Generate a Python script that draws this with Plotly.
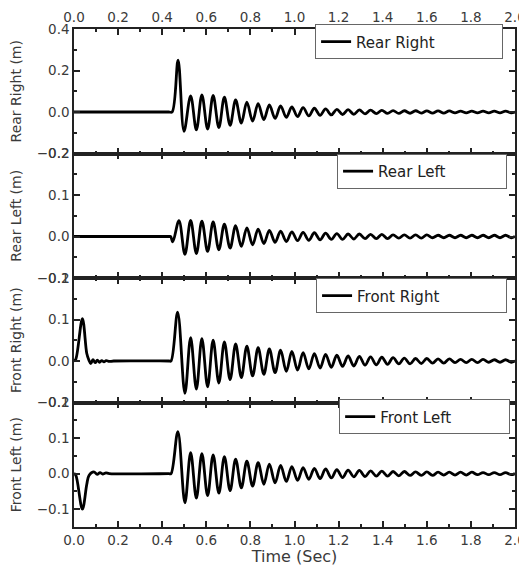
import plotly.graph_objects as go

# ---------------- data ----------------
# times of the successive extrema of the main oscillation (s)
t_osc = [0.529, 0.555, 0.580, 0.606, 0.631, 0.657, 0.682, 0.708, 0.733, 0.759,
         0.784, 0.810, 0.835, 0.861, 0.886, 0.912, 0.937, 0.963, 0.988, 1.014,
         1.039, 1.065, 1.090, 1.116, 1.141, 1.167, 1.192, 1.218, 1.243, 1.269,
         1.294, 1.320, 1.345, 1.371, 1.396, 1.422, 1.447, 1.473, 1.498, 1.524,
         1.549, 1.575, 1.600, 1.626, 1.651, 1.677, 1.702, 1.728, 1.753, 1.779,
         1.804, 1.830, 1.855, 1.881, 1.906, 1.932, 1.957, 1.983]
t_end = [2.0]
y_end = [0.0]

# Rear Right
t_rr_lead = [0.0, 0.43, 0.445, 0.472, 0.499]
y_rr_lead = [0.0, 0.0, 0.0, 0.250, -0.093]
y_rr_osc = [0.078, -0.086, 0.083, -0.082, 0.080, -0.075, 0.071, -0.064, 0.058, -0.053,
            0.048, -0.044, 0.040, -0.037, 0.034, -0.031, 0.029, -0.026, 0.024, -0.022,
            0.021, -0.019, 0.018, -0.016, 0.015, -0.014, 0.013, -0.012, 0.011, -0.011,
            0.010, -0.009, 0.009, -0.008, 0.008, -0.007, 0.007, -0.007, 0.006, -0.006,
            0.006, -0.005, 0.005, -0.005, 0.005, -0.005, 0.005, -0.004, 0.004, -0.004,
            0.004, -0.004, 0.004, -0.004, 0.004, -0.004, 0.004, -0.004]

# Rear Left
t_rl_lead = [0.0, 0.43, 0.438, 0.448, 0.476, 0.503]
y_rl_lead = [0.0, 0.0, 0.0, -0.013, 0.038, -0.043]
y_rl_osc = [0.039, -0.041, 0.037, -0.036, 0.035, -0.032, 0.030, -0.028, 0.026, -0.024,
            0.021, -0.020, 0.018, -0.017, 0.015, -0.014, 0.013, -0.012, 0.011, -0.010,
            0.010, -0.009, 0.009, -0.008, 0.008, -0.007, 0.007, -0.007, 0.006, -0.006,
            0.006, -0.005, 0.005, -0.005, 0.005, -0.005, 0.004, -0.004, 0.004, -0.004,
            0.004, -0.004, 0.004, -0.003, 0.003, -0.003, 0.003, -0.003, 0.003, -0.003,
            0.003, -0.003, 0.003, -0.003, 0.003, -0.003, 0.003, -0.003]

# Front Right
t_fr_lead = [0.0, 0.008, 0.038, 0.058, 0.067, 0.076, 0.086, 0.096, 0.106, 0.116,
             0.126, 0.136, 0.146, 0.16, 0.18, 0.43, 0.44, 0.470, 0.503]
y_fr_lead = [0.0, 0.004, 0.102, 0.018, 0.003, -0.006, 0.003, -0.004, 0.002, -0.003,
             0.001, -0.002, 0.001, -0.001, 0.0, 0.0, 0.0, 0.118, -0.078]
y_fr_osc = [0.056, -0.068, 0.054, -0.062, 0.050, -0.053, 0.046, -0.045, 0.041, -0.040,
            0.036, -0.036, 0.032, -0.032, 0.029, -0.028, 0.026, -0.025, 0.023, -0.022,
            0.020, -0.019, 0.018, -0.017, 0.016, -0.015, 0.014, -0.013, 0.012, -0.012,
            0.011, -0.010, 0.010, -0.009, 0.009, -0.008, 0.008, -0.007, 0.007, -0.007,
            0.006, -0.006, 0.006, -0.005, 0.005, -0.005, 0.005, -0.004, 0.004, -0.004,
            0.004, -0.004, 0.004, -0.003, 0.003, -0.003, 0.003, -0.003]

# Front Left
t_fl_lead = [0.0, 0.008, 0.038, 0.058, 0.068, 0.090, 0.105, 0.118, 0.130, 0.145,
             0.16, 0.43, 0.44, 0.471, 0.503]
y_fl_lead = [0.0, -0.004, -0.100, -0.030, -0.005, 0.005, -0.002, 0.003, -0.001, 0.002,
             0.0, 0.0, 0.0, 0.118, -0.082]
y_fl_osc = [0.059, -0.069, 0.056, -0.062, 0.053, -0.055, 0.048, -0.048, 0.041, -0.040,
            0.035, -0.035, 0.031, -0.030, 0.027, -0.026, 0.023, -0.022, 0.020, -0.019,
            0.017, -0.016, 0.015, -0.014, 0.013, -0.012, 0.011, -0.011, 0.010, -0.009,
            0.009, -0.008, 0.008, -0.007, 0.007, -0.007, 0.006, -0.006, 0.006, -0.005,
            0.005, -0.005, 0.005, -0.005, 0.004, -0.004, 0.004, -0.004, 0.004, -0.004,
            0.004, -0.003, 0.003, -0.003, 0.003, -0.003, 0.003, -0.003]

series_names = ["Rear Right", "Rear Left", "Front Right", "Front Left"]
y_titles = ["Rear Right (m)", "Rear Left (m)", "Front Right (m)", "Front Left (m)"]
x_ticks = [0.0, 0.2, 0.4, 0.6, 0.8, 1.0, 1.2, 1.4, 1.6, 1.8, 2.0]

series = [
    (t_rr_lead + t_osc + t_end, y_rr_lead + y_rr_osc + y_end),
    (t_rl_lead + t_osc + t_end, y_rl_lead + y_rl_osc + y_end),
    (t_fr_lead + t_osc + t_end, y_fr_lead + y_fr_osc + y_end),
    (t_fl_lead + t_osc + t_end, y_fl_lead + y_fl_osc + y_end),
]

# ---------------- styling ----------------
FONT = "DejaVu Sans, Verdana, sans-serif"
AX_COLOR = "#222222"
TXT_COLOR = "#3a3a3a"

y_ranges = [[-0.2, 0.4], [-0.1, 0.2], [-0.1, 0.2], [-0.15, 0.2]]
y_dticks = [0.2, 0.1, 0.1, 0.1]
y_minor = [0.1, 0.05, 0.05, 0.05]
domains = [[0.75, 1.0], [0.5, 0.75], [0.25, 0.5], [0.0, 0.25]]
legend_pos = [(0.973, 0.974), (0.982, 0.714), (0.982, 0.464), (0.989, 0.221)]
legend_w = [141, 123, 144, 124]

fig = go.Figure()
# the page body adds an 8 px offset, so the figure is 8 px smaller
layout = dict(
    width=519, height=558,
    margin=dict(l=66, r=12, t=21, b=39),
    paper_bgcolor="white", plot_bgcolor="white",
    font=dict(family=FONT, color=TXT_COLOR, size=13),
)

for i in range(4):
    n = i + 1
    sfx = "" if n == 1 else str(n)
    t, y = series[i]
    leg = "legend" if n == 1 else f"legend{n}"
    fig.add_trace(go.Scatter(
        x=t, y=y, mode="lines", name=series_names[i],
        line=dict(color="black", width=2.8, shape="spline", smoothing=1.0),
        xaxis=f"x{sfx}", yaxis=f"y{sfx}", legend=leg, showlegend=True,
    ))

    xa = dict(
        domain=[0, 1], anchor=f"y{sfx}", range=[0, 2.0], automargin=False,
        tickvals=x_ticks, tickformat=".1f", ticklabeloverflow="allow",
        showline=True, linecolor=AX_COLOR, linewidth=1.5, mirror="ticks",
        ticks="inside", ticklen=6, tickwidth=1.5, tickcolor=AX_COLOR,
        minor=dict(dtick=0.1, ticks="inside", ticklen=3, tickwidth=1.5, tickcolor=AX_COLOR),
        showgrid=False, zeroline=False,
        tickfont=dict(size=13.5, color=TXT_COLOR),
    )
    if n != 1:
        xa["matches"] = "x"
    if n == 1:
        xa["side"] = "top"
        xa["showticklabels"] = True
    elif n == 4:
        xa["side"] = "bottom"
        xa["showticklabels"] = True
        xa["title"] = dict(text="Time (Sec)", font=dict(size=16, color=TXT_COLOR), standoff=2)
    else:
        xa["showticklabels"] = False
    layout[f"xaxis{sfx}"] = xa

    layout[f"yaxis{sfx}"] = dict(
        domain=domains[i], anchor=f"x{sfx}", range=y_ranges[i], automargin=False,
        dtick=y_dticks[i], tick0=0, tickformat=".1f",
        showline=True, linecolor=AX_COLOR, linewidth=1.5, mirror="ticks",
        ticks="inside", ticklen=6, tickwidth=1.5, tickcolor=AX_COLOR,
        minor=dict(dtick=y_minor[i], tick0=0, ticks="inside", ticklen=3, tickwidth=1.5,
                   tickcolor=AX_COLOR),
        showgrid=False, zeroline=False,
        tickfont=dict(size=13.5, color=TXT_COLOR),
        title=dict(text=y_titles[i], font=dict(size=14, color=TXT_COLOR), standoff=14),
    )

    lx, ly = legend_pos[i]
    layout[leg] = dict(
        x=lx, y=ly, xanchor="right", yanchor="middle", xref="paper", yref="paper",
        bgcolor="white", bordercolor="#666666", borderwidth=1,
        font=dict(size=15, color="#222222", family=FONT),
        tracegroupgap=0, orientation="h",
        entrywidth=legend_w[i], entrywidthmode="pixels",
    )

fig.update_layout(**layout)
fig.write_html("out.html")
